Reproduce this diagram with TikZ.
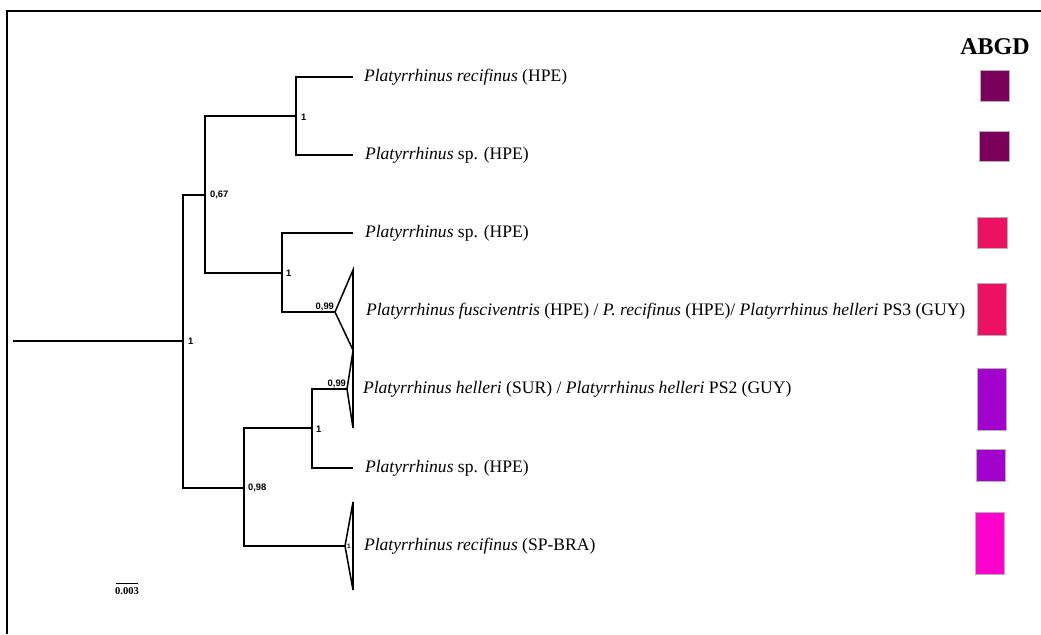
\documentclass[tikz,border=0pt]{standalone}
\usepackage{fontspec}
\setmainfont{Liberation Serif}
\setsansfont{Liberation Sans}
\definecolor{abgdA}{RGB}{122,0,92}
\definecolor{abgdB}{RGB}{236,17,98}
\definecolor{abgdC}{RGB}{162,0,204}
\definecolor{abgdD}{RGB}{255,0,204}
\begin{document}
\begin{tikzpicture}[x=0.3mm,y=-0.3mm,line width=1.8pt,
  taxon/.style={anchor=west,inner sep=0pt,font=\fontsize{15}{15}\selectfont},
  supp/.style={anchor=west,inner sep=0pt,font=\sffamily\bfseries\fontsize{8}{8}\selectfont},
  clade/.style={draw,line width=1.3pt},
  abgd/.style={draw=black!30,line width=0.3pt}]

\useasboundingbox (0,0) rectangle (1041,634);
\draw (7,634) -- (7,11) -- (1041,11);

% inner nodes
\coordinate (r0) at (13,341);
\coordinate (r) at (183,341);
\coordinate (u) at (205,195);
\coordinate (l) at (244,488);
\coordinate (A) at (296,116);
\coordinate (B) at (282,273);
\coordinate (C) at (312,428);

% tips
\coordinate (lf1) at (353,77);
\coordinate (lf2) at (353,155);
\coordinate (lf3) at (353,233);
\coordinate (c1) at (335,312);
\coordinate (c2) at (347,389);
\coordinate (lf6) at (353,468);
\coordinate (c3) at (345,546);

\path [draw,-]
    (r0) -- (r)
    (u) -- (r|-u) -- (r|-l) -- (l)
    (A) -- (u|-A) -- (u|-B) -- (B)
    (lf1) -- (A|-lf1) -- (A|-lf2) -- (lf2)
    (lf3) -- (B|-lf3) -- (B|-c1) -- (c1)
    (C) -- (l|-C) -- (l|-c3) -- (c3)
    (c2) -- (C|-c2) -- (C|-lf6) -- (lf6)
;

\path [clade]
    (c1) -- ++(18,-42) -- ++(0,80) -- cycle
    (c2) -- ++(6,-38) -- ++(0,77) -- cycle
    (c3) -- ++(8,-44) -- ++(0,88) -- cycle
;

% supports
\node[supp] (s0) at (187,341) {1};
\node[supp] (s1) at (209,195) {0,67};
\node[supp] (s2) at (300,117) {1};
\node[supp] (s3) at (285,273) {1};
\node[supp,anchor=south east] (s4) at (c1) {0,99};
\node[supp] (s5) at (247,488) {0,98};
\node[supp] (s6) at (315,429) {1};
\node[supp,anchor=south east] (s7) at (c2) {0,99};
\node[supp,font=\sffamily\bfseries\fontsize{5.5}{5.5}\selectfont] (s8) at (346,546) {1};

% taxa
\node[taxon] (t1) at (363,77) {\textit{Platyrrhinus recifinus} (HPE)};
\node[taxon] (t2) at (364,155) {\textit{Platyrrhinus} sp. (HPE)};
\node[taxon] (t3) at (364,233) {\textit{Platyrrhinus} sp. (HPE)};
\node[taxon] (t4) at (365,311) {\textit{Platyrrhinus fusciventris} (HPE) / \textit{P. recifinus} (HPE)/ \textit{Platyrrhinus helleri} PS3 (GUY)};
\node[taxon] (t5) at (362,389) {\textit{Platyrrhinus helleri} (SUR) / \textit{Platyrrhinus helleri} PS2 (GUY)};
\node[taxon] (t6) at (364,468) {\textit{Platyrrhinus} sp. (HPE)};
\node[taxon] (t7) at (363,546) {\textit{Platyrrhinus recifinus} (SP-BRA)};

% ABGD column
\node[font=\bfseries\fontsize{20.5}{20.5}\selectfont] (abgd) at (995,47) {ABGD};
\filldraw[abgd,fill=abgdA] (980,70) rectangle (1009,101);
\filldraw[abgd,fill=abgdA] (979,131) rectangle (1009,161);
\filldraw[abgd,fill=abgdB] (977,217) rectangle (1007,248);
\filldraw[abgd,fill=abgdB] (977,283) rectangle (1006,335);
\filldraw[abgd,fill=abgdC] (977,368) rectangle (1006,430);
\filldraw[abgd,fill=abgdC] (976,449) rectangle (1005,481);
\filldraw[abgd,fill=abgdD] (975,512) rectangle (1004,574);

% scale
\draw[line width=0.6pt] (116,583) -- (138,583);
\node[font=\bfseries\fontsize{9}{9}\selectfont,inner sep=0pt] (scl) at (127,591) {0.003};

\end{tikzpicture}
\end{document}
